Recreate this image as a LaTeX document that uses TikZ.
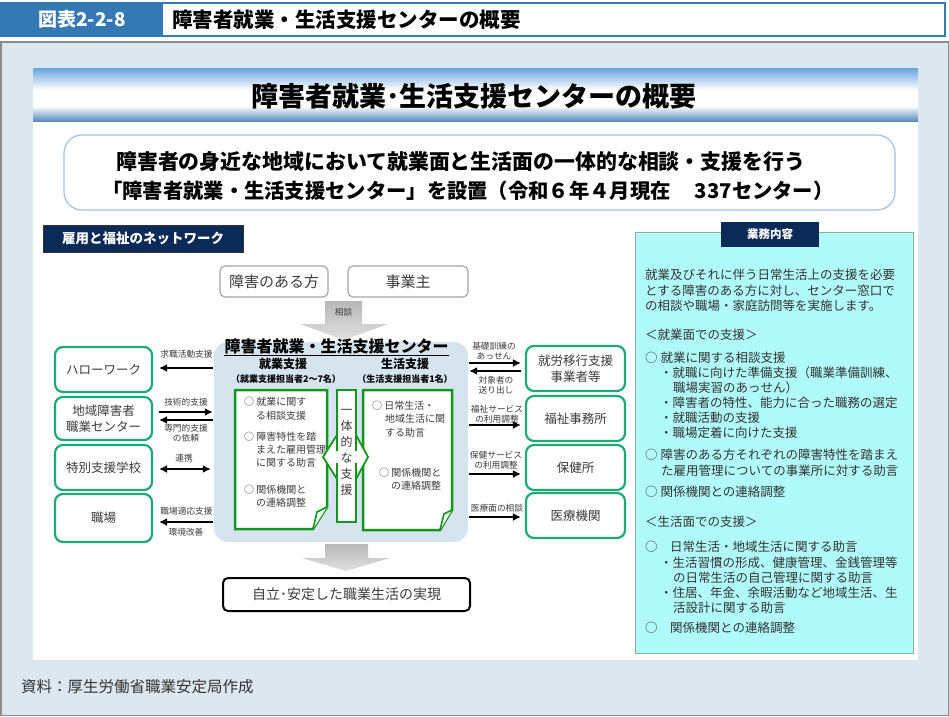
\documentclass[tikz,border=0pt]{standalone}
\usepackage{fontspec}
\setmainfont{Noto Sans CJK JP}
\usetikzlibrary{positioning,arrows.meta,calc}
\definecolor{headblue}{RGB}{52,120,180}
\definecolor{bggray}{RGB}{221,231,240}
\definecolor{bannerblue}{RGB}{105,165,222}
\definecolor{navy}{RGB}{12,42,88}
\definecolor{netgreen}{RGB}{30,170,120}
\definecolor{docgreen}{RGB}{20,150,30}
\definecolor{ctrblue}{RGB}{214,228,240}
\definecolor{panelcyan}{RGB}{176,250,250}
\definecolor{panelline}{RGB}{140,175,150}
\definecolor{textgray}{RGB}{60,60,60}
\definecolor{softblue}{RGB}{160,195,225}
\newcommand{\fsz}[2]{\fontsize{#1}{#2}\selectfont}
\tikzset{
  netbox/.style={draw=netgreen,line width=2.2pt,rounded corners=8pt,fill=white,
    minimum width=97pt,minimum height=45pt,align=center,text=textgray,font=\fsz{12.5}{16}},
  partybox/.style={draw=black!35,line width=1.2pt,rounded corners=5pt,fill=white,
    minimum height=31pt,text=textgray,font=\fsz{15}{18}},
  arr/.style={line width=2.2pt,-{Latex[length=8pt,width=8pt]}},
  biarr/.style={line width=2.2pt,{Latex[length=8pt,width=8pt]}-{Latex[length=8pt,width=8pt]}},
  lbl/.style={inner sep=0pt,align=center,text=textgray,font=\fsz{8.7}{10}},
  doctxt/.style={inner sep=0pt,anchor=west,text=textgray,font=\fsz{10}{12}},
  docline/.style={draw=docgreen,line width=2.5pt,fill=white,line join=miter},
  paneltxt/.style={inner sep=0pt,anchor=west,text=black!80,font=\fsz{12.5}{15}},
  navybox/.style={fill=navy,text=white,inner sep=0pt},
  greyarrow/.style={top color=black!28,bottom color=black!12}
}
\begin{document}
\begin{tikzpicture}[x=1pt,y=-1pt]
\useasboundingbox (0,0) rectangle (949,716);
% background and header
\fill[white] (0,0) rectangle (949,42);
\fill[bggray] (0,42) rectangle (949,716);
\draw[black!45,line width=1.5pt] (0.75,42) rectangle (948.25,715.25);
\draw[headblue,line width=2pt,fill=white] (1,3) rectangle (945,36);
\node[navybox,fill=headblue,minimum width=162pt,minimum height=33pt,font=\bfseries\fsz{19}{22}] (figno) at (82,19.5) {図表2-2-8};
\node[anchor=west,inner sep=0pt,font=\bfseries\fsz{20.5}{24}] (headtitle) at (172,19.5) {障害者就業・生活支援センターの概要};
% white panel and banner
\fill[white] (33,68) rectangle (918,660);
\shade[top color=bannerblue,bottom color=white] (33,68) rectangle (918,90);
\shade[top color=white,bottom color=bannerblue!85!black] (33,106) rectangle (918,121);
\node[inner sep=0pt,font=\bfseries\fsz{27}{30}] (bannertitle) at (474,96) {障害者就業･生活支援センターの概要};
\node[draw=softblue,line width=1.2pt,rounded corners=18pt,minimum width=831pt,minimum height=75pt] (subbox) at (479.5,172.5) {};
\node[anchor=west,inner sep=0pt,font=\bfseries\fsz{20.9}{24}] (subline1) at (116,162) {障害者の身近な地域において就業面と生活面の一体的な相談・支援を行う};
\node[anchor=west,inner sep=0pt,font=\bfseries\fsz{20.3}{24}] (subline2) at (102,191) {「障害者就業・生活支援センター」を設置（令和６年４月現在\hspace{1.2em}337センター）};
% network label
\node[navybox,draw=black!80,minimum width=200pt,minimum height=27pt,font=\bfseries\fsz{13.5}{16}] (netlbl) at (143,238.5) {雇用と福祉のネットワーク};
% right panel
\node[fill=panelcyan,draw=panelline,line width=1pt,minimum width=278pt,minimum height=421pt] (gyomu) at (774,442.5) {};
\node[navybox,minimum width=98pt,minimum height=25pt,font=\bfseries\fsz{11.5}{14}] (gyomulbl) at (770,234.5) {業務内容};
\foreach \x/\y/\t in {645/275/就業及びそれに伴う日常生活上の支援を必要,
  645/291/とする障害のある方に対し、センター窓口で,
  645/306/の相談や職場・家庭訪問等を実施します。,
  645/335/＜就業面での支援＞,
  645/358/○ 就業に関する相談支援,
  660/373/・就職に向けた準備支援（職業準備訓練、,
  673/388/職場実習のあっせん）,
  660/403/・障害者の特性、能力に合った職務の選定,
  660/418/・就職活動の支援,
  660/433/・職場定着に向けた支援,
  645/455/○ 障害のある方それぞれの障害特性を踏まえ,
  661/471/た雇用管理についての事業所に対する助言,
  645/492/○ 関係機関との連絡調整,
  645/522/＜生活面での支援＞,
  645/547/○　日常生活・地域生活に関する助言,
  660/563/・生活習慣の形成、健康管理、金銭管理等,
  673/578/の日常生活の自己管理に関する助言,
  660/593/・住居、年金、余暇活動など地域生活、生,
  673/608/活設計に関する助言,
  645/628/○　関係機関との連絡調整}
  \node[paneltxt] at (\x,\y) {\t};
% parties and consultation arrow
\node[partybox,minimum width=108pt] (person) at (274,281.5) {障害のある方};
\node[partybox,minimum width=120pt] (employer) at (408,281.5) {事業主};
\shade[greyarrow] (325,301) -- (362,301) -- (362,324) -- (388,324) -- (344,340) -- (300,324) -- (325,324) -- cycle;
\node[lbl] (soudan) at (343.5,312) {相談};
% center
\node[fill=ctrblue,rounded corners=14pt,minimum width=254pt,minimum height=200pt] (ctr) at (341,442) {};
\node[inner sep=0pt,font=\bfseries\fsz{16}{18}] (ctrtitle) at (336.5,346) {障害者就業・生活支援センター};
\draw[line width=1pt] ($(ctrtitle.base west)+(0,3.5)$) -- ($(ctrtitle.base east)+(0,3.5)$);
\node[inner sep=0pt,font=\bfseries\fsz{12}{14}] (shugyo) at (283,364) {就業支援};
\node[inner sep=0pt,font=\bfseries\fsz{9}{11}] (shugyonum) at (286,379) {（就業支援担当者2～7名）};
\node[inner sep=0pt,font=\bfseries\fsz{12}{14}] (seikatsu) at (405,364) {生活支援};
\node[inner sep=0pt,font=\bfseries\fsz{9}{11}] (seikatsunum) at (405,379) {（生活支援担当者1名）};
% documents
\draw[docline] (235,390) -- (327,390) -- (327,507) -- (313,529) -- (235,529) -- cycle;
\draw[docgreen,line width=1.6pt,fill=white] (313,529) -- (317,512) -- (327,507);
\draw[docline] (363,390) -- (452,390) -- (452,510) -- (440,530) -- (363,530) -- cycle;
\draw[docgreen,line width=1.6pt,fill=white] (440,530) -- (444,514) -- (452,510);
\foreach \x/\y/\t in {244/402/○ 就業に関す, 256/416/る相談支援,
  244/437/○ 障害特性を踏, 256/450/まえた雇用管理, 256/463/に関する助言,
  244/490/○ 関係機関と, 256/503/の連絡調整,
  372/406/○ 日常生活・, 385/419/地域生活に関, 385/433/する助言,
  379/473/○ 関係機関と, 391/486/の連絡調整}
  \node[doctxt] at (\x,\y) {\t};
% integrated support
\draw[docgreen,line width=2pt,fill=white] (337,390) rectangle (356,522);
\draw[docgreen,line width=1.8pt,fill=white,line join=miter] (323,457) -- (337,435) -- (337,450) -- (356,450) -- (356,435) -- (368,457) -- (356,479) -- (356,464) -- (337,464) -- (337,479) -- cycle;
\fill[white] (338.2,448.8) rectangle (354.8,465.2);
\fill[white] (335,451.2) rectangle (358,462.8);
\node[inner sep=0pt,align=center,text=textgray,font=\fsz{12}{16}] (ittai) at (346.5,452) {一\\体\\的\\な\\支\\援};
% outcome
\shade[greyarrow] (325,544) -- (368,544) -- (368,558) -- (390,558) -- (346,571) -- (302,558) -- (325,558) -- cycle;
\node[draw=black,line width=2pt,rounded corners=5pt,minimum width=247pt,minimum height=33pt,text=textgray,font=\fsz{14}{16}] (jiritsu) at (346.5,594.5) {自立･安定した職業生活の実現};
% left network
\node[netbox] (hwork) at (103.5,369.5) {ハローワーク};
\node[netbox,minimum height=43pt] (chiiki) at (103.5,418.5) {地域障害者\\職業センター};
\node[netbox] (tokushi) at (103.5,467.5) {特別支援学校};
\node[netbox,minimum height=48pt] (shokuba) at (103.5,518) {職場};
\draw[arr] ($(ctr.west |- hwork.east)+(-1,-1.5)$) -- ($(hwork.east)+(6,-1.5)$);
\draw[arr] ($(chiiki.east)+(6,-6.5)$) -- ($(ctr.west |- chiiki.east)+(-1,-6.5)$);
\draw[arr] ($(ctr.west |- chiiki.east)+(-1,1.5)$) -- ($(chiiki.east)+(6,1.5)$);
\draw[biarr] ($(tokushi.east)+(6,1.5)$) -- ($(ctr.west |- tokushi.east)+(-3,1.5)$);
\draw[arr] ($(ctr.west |- shokuba.east)+(-1,4)$) -- ($(shokuba.east)+(6,4)$);
\node[lbl] at (186.5,354) {求職活動支援};
\node[lbl] at (186,402) {技術的支援};
\node[lbl] at (186,433) {専門的支援\\の依頼};
\node[lbl] at (184,458) {連携};
\node[lbl] at (186.5,511) {職場適応支援};
\node[lbl] at (186,532) {環境改善};
% right network
\node[netbox,minimum width=99pt] (ikou) at (575.5,368.5) {就労移行支援\\事業者等};
\node[netbox,minimum width=99pt] (fukushi) at (575.5,418.5) {福祉事務所};
\node[netbox,minimum width=99pt] (hoken) at (575.5,467.5) {保健所};
\node[netbox,minimum width=99pt] (iryo) at (575.5,515.5) {医療機関};
\draw[arr] ($(ctr.east |- ikou.west)+(1,-5.5)$) -- ($(ikou.west)+(-4,-5.5)$);
\draw[arr] ($(ikou.west)+(-4,2.5)$) -- ($(ctr.east |- ikou.west)+(1,2.5)$);
\draw[arr] ($(ctr.east |- fukushi.west)+(1,6.5)$) -- ($(fukushi.west)+(-4,6.5)$);
\draw[arr] ($(ctr.east |- hoken.west)+(1,6.5)$) -- ($(hoken.west)+(-4,6.5)$);
\draw[arr] ($(ctr.east |- iryo.west)+(1,1.5)$) -- ($(iryo.west)+(-4,1.5)$);
\node[lbl] at (494,351) {基礎訓練の\\あっせん};
\node[lbl] at (496,385) {対象者の\\送り出し};
\node[lbl] at (497,414) {福祉サービス\\の利用調整};
\node[lbl] at (496,460) {保健サービス\\の利用調整};
\node[lbl] at (497,508) {医療面の相談};
% source
\node[anchor=west,inner sep=0pt,text=black!80,font=\fsz{15.5}{18}] (source) at (21,687) {資料：厚生労働省職業安定局作成};
\end{tikzpicture}
\end{document}
